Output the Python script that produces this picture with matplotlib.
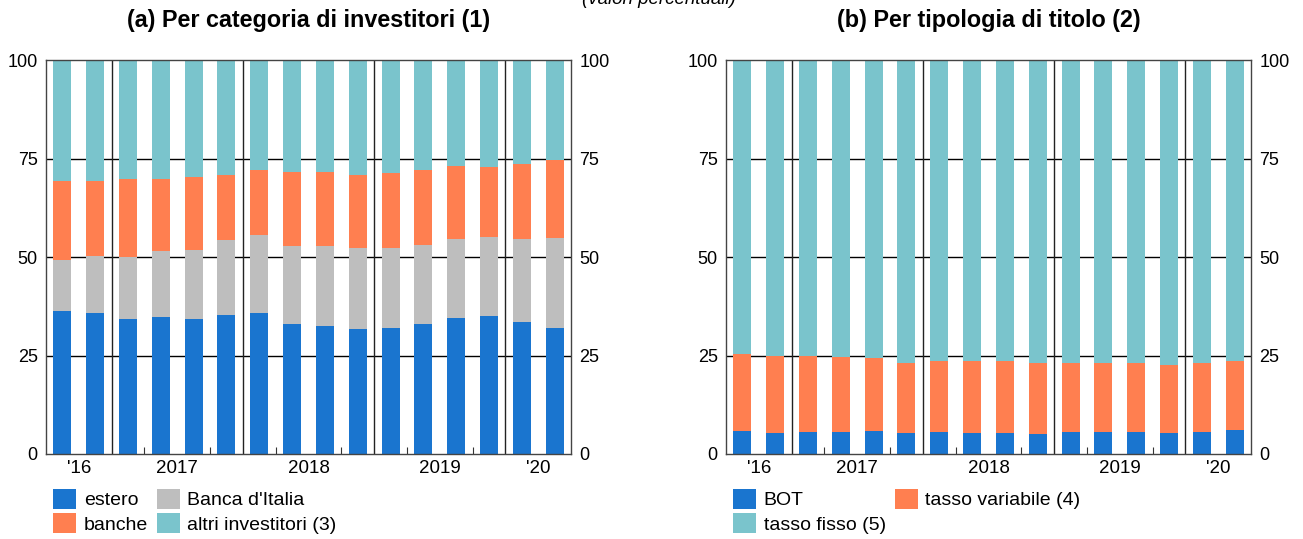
import numpy as np
import matplotlib.pyplot as plt

plt.rcParams['font.family'] = ['Liberation Sans', 'DejaVu Sans']

# quarterly observations: 2016 (2), 2017-2019 (4 each), 2020 (2)
year_labels = ["'16", "2017", "2018", "2019", "'20"]
year_sizes = [2, 4, 4, 4, 2]

# (a) per categoria di investitori
estero = [36.2, 35.7, 34.2, 34.7, 34.2, 35.2, 35.9, 33.1,
          32.6, 31.6, 31.9, 33.1, 34.4, 34.9, 33.6, 31.9]
banca_italia_cum = [49.2, 50.3, 49.9, 51.4, 51.9, 54.2, 55.5, 52.7,
                    52.7, 52.2, 52.2, 53.0, 54.5, 55.0, 54.5, 54.7]
banche_cum = [69.2, 69.2, 69.7, 69.7, 70.3, 70.8, 72.1, 71.6,
              71.6, 70.8, 71.3, 72.1, 73.1, 72.8, 73.6, 74.7]

# (b) per tipologia di titolo
bot = [5.9, 5.4, 5.7, 5.7, 5.9, 5.4, 5.7, 5.4,
       5.4, 5.2, 5.7, 5.7, 5.7, 5.4, 5.7, 6.2]
variabile_cum = [25.5, 25.0, 25.0, 24.5, 24.3, 23.0, 23.7, 23.7,
                 23.5, 23.0, 23.2, 23.2, 23.0, 22.5, 23.0, 23.5]

BLUE = '#1a75cf'
GRAY = '#bebebe'
ORANGE = '#ff7f50'
TEAL = '#7ac4cc'

n = len(estero)
x = np.arange(n)
w = 0.55

banca = np.array(banca_italia_cum) - np.array(estero)
banche = np.array(banche_cum) - np.array(banca_italia_cum)
altri = 100 - np.array(banche_cum)
variabile = np.array(variabile_cum) - np.array(bot)
fisso = 100 - np.array(variabile_cum)

W, H = 1303, 539
fig = plt.figure(figsize=(W / 100, H / 100), dpi=100)
ax1 = fig.add_axes([46 / W, 85 / H, 525 / W, 394 / H])
ax2 = fig.add_axes([726 / W, 85 / H, 525 / W, 394 / H])

# year boundaries and tick positions
bounds = np.cumsum(year_sizes)[:-1] - 0.5
starts = np.concatenate([[0], np.cumsum(year_sizes)[:-1]])
label_pos = [s + 0.5 if k == 2 else s + 1.5 for s, k in zip(starts, year_sizes)]
tick_pos = []
for s, k in zip(starts, year_sizes):
    tick_pos += [s + j + 0.5 for j in range(k - 1)]


def style(ax):
    ax.set_xlim(-0.5, n - 0.5)
    ax.set_ylim(0, 100)
    ax.set_yticks([0, 25, 50, 75, 100])
    ax.tick_params(axis='y', length=0, pad=6, labelsize=13,
                   labelleft=True, labelright=True)
    ax.set_xticks(label_pos)
    ax.set_xticklabels(year_labels)
    ax.set_xticks(tick_pos, minor=True)
    ax.tick_params(axis='x', which='major', length=0, pad=4, labelsize=13.5)
    ax.tick_params(axis='x', which='minor', direction='in', length=5,
                   width=0.8, color='#333333')
    for v in [25, 50, 75]:
        ax.axhline(v, color='black', lw=1.0, zorder=0)
    for b in bounds:
        ax.axvline(b, color='#222222', lw=1.0, zorder=0)
    for sp in ax.spines.values():
        sp.set_color('#444444')
        sp.set_linewidth(1.0)


h_estero = ax1.bar(x, estero, w, color=BLUE, label='estero', zorder=2)
h_banca = ax1.bar(x, banca, w, bottom=estero, color=GRAY,
                  label="Banca d'Italia", zorder=2)
h_banche = ax1.bar(x, banche, w, bottom=banca_italia_cum, color=ORANGE,
                   label='banche', zorder=2)
h_altri = ax1.bar(x, altri, w, bottom=banche_cum, color=TEAL,
                  label='altri investitori (3)', zorder=2)
style(ax1)

h_bot = ax2.bar(x, bot, w, color=BLUE, label='BOT', zorder=2)
h_var = ax2.bar(x, variabile, w, bottom=bot, color=ORANGE,
                label='tasso variabile (4)', zorder=2)
h_fix = ax2.bar(x, fisso, w, bottom=variabile_cum, color=TEAL,
                label='tasso fisso (5)', zorder=2)
style(ax2)

# titoli
fig.text(308.5 / W, 1 - 20 / H, '(a) Per categoria di investitori (1)',
         ha='center', va='center', fontsize=16.8, fontweight='bold')
fig.text(988.5 / W, 1 - 20 / H, '(b) Per tipologia di titolo (2)',
         ha='center', va='center', fontsize=16.8, fontweight='bold')
fig.text(659 / W, 1 + 1 / H, '(valori percentuali)', ha='center', va='center',
         fontsize=13.5, style='italic')

leg_kw = dict(ncol=2, frameon=False, fontsize=14, handlelength=1.18,
              handleheight=1.18, handletextpad=0.4, labelspacing=0.2,
              columnspacing=0.45, borderaxespad=0, borderpad=0)
ax1.legend([h_estero, h_banche, h_banca, h_altri],
           ['estero', 'banche', "Banca d'Italia", 'altri investitori (3)'],
           loc='upper left', bbox_to_anchor=(7 / 525, -35 / 394), **leg_kw)
ax2.legend([h_bot, h_fix, h_var],
           ['BOT', 'tasso fisso (5)', 'tasso variabile (4)'],
           loc='upper left', bbox_to_anchor=(7 / 525, -35 / 394), **leg_kw)

fig.savefig('out.png', dpi=100)
